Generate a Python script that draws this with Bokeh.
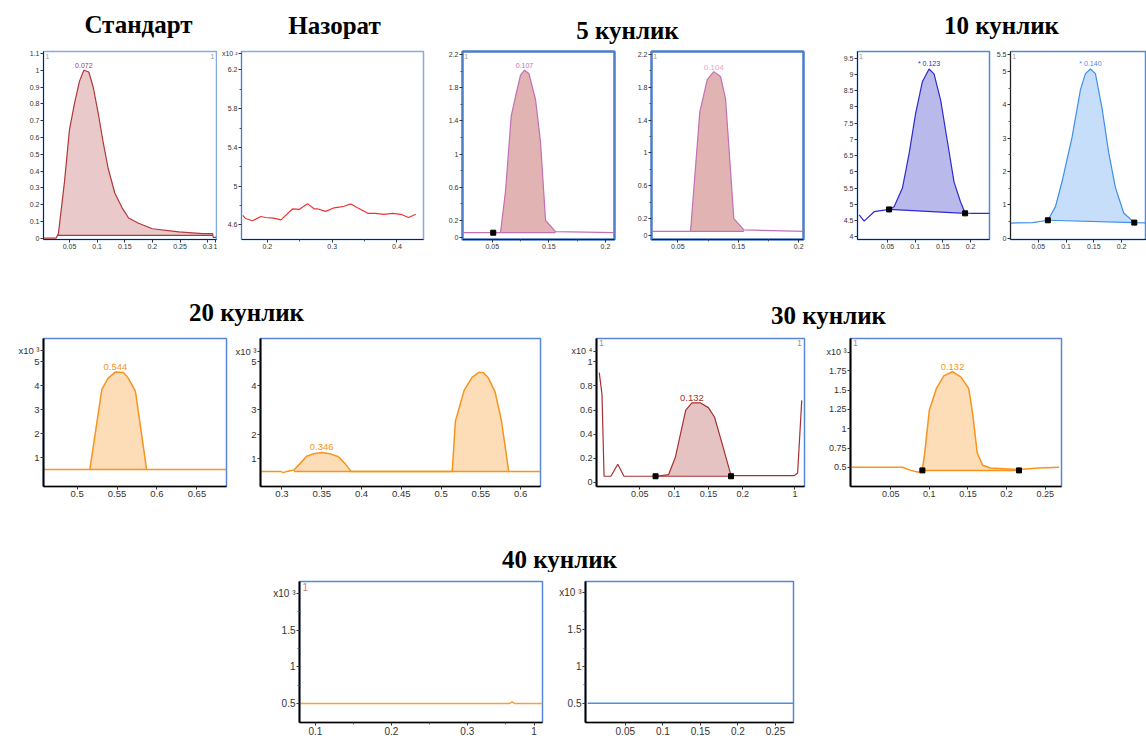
import numpy as np
from bokeh.plotting import figure
from bokeh.models import Range1d, FixedTicker, Label, Spacer
from bokeh.layouts import row, column
from bokeh.embed import file_html
from bokeh.resources import INLINE
from bokeh.core.properties import value

# ---------------- data ----------------
titles_row1 = ["Стандарт", "Назорат", "5 кунлик", "10 кунлик"]
titles_row2 = ["20 кунлик", "30 кунлик"]
titles_row3 = ["40 кунлик"]

# Стандарт
std_x = [0.003, 0.0257, 0.030, 0.041, 0.05, 0.059, 0.068, 0.076, 0.085, 0.093, 0.102, 0.111,
         0.120, 0.132, 0.145, 0.157, 0.175, 0.2, 0.248, 0.291, 0.309, 0.310, 0.316]
std_y = [0, 0, 0.027, 0.337, 0.647, 0.802, 0.934, 1.0, 0.99, 0.899, 0.744, 0.57,
         0.415, 0.269, 0.182, 0.12, 0.089, 0.056, 0.037, 0.027, 0.027, 0.005, 0.005]
std_base_x = [0.029, 0.309]
std_base_y = [0.017, 0.017]
std_peak = "0.072"
std_xticks = [0.05, 0.1, 0.15, 0.2, 0.25, 0.3, 0.314]
std_xlabels = ["0.05", "0.1", "0.15", "0.2", "0.25", "0.3", "1"]
std_yticks = [0, 0.1, 0.2, 0.3, 0.4, 0.5, 0.6, 0.7, 0.8, 0.9, 1, 1.1]
std_ylabels = ["0", "0.1", "0.2", "0.3", "0.4", "0.5", "0.6", "0.7", "0.8", "0.9", "1", "1.1"]

# Назорат
naz_x = [0.162, 0.166, 0.177, 0.190, 0.197, 0.210, 0.221, 0.239, 0.249, 0.262, 0.272, 0.277, 0.290,
         0.303, 0.313, 0.318, 0.329, 0.339, 0.355, 0.367, 0.380, 0.393, 0.406, 0.418, 0.429]
naz_y = [4.70, 4.667, 4.643, 4.687, 4.677, 4.67, 4.653, 4.767, 4.76, 4.82, 4.767, 4.767, 4.74,
         4.777, 4.787, 4.793, 4.817, 4.777, 4.72, 4.72, 4.71, 4.72, 4.71, 4.677, 4.71]
naz_xticks = [0.2, 0.3, 0.4]
naz_xlabels = ["0.2", "0.3", "0.4"]
naz_yticks = [4.6, 5, 5.4, 5.8, 6.2]
naz_ylabels = ["4.6", "5", "5.4", "5.8", "6.2"]

# 5 кунлик (1)
d5a_x = [-0.003, 0.0647, 0.0735, 0.0836, 0.0912, 0.1, 0.107, 0.1147, 0.1265, 0.1353, 0.1442, 0.1618, 0.266]
d5a_y = [0.053, 0.053, 0.556, 1.46, 1.696, 1.95, 2.01, 1.97, 1.657, 1.146, 0.2, 0.065, 0.053]
d5a_base_x = [0.0647, 0.1618]
d5a_base_y = [0.053, 0.053]
d5a_mark_x = [0.0518]
d5a_mark_y = [0.053]
d5a_peak = "0.107"
# 5 кунлик (2)
d5b_x = [0.0064, 0.071, 0.0864, 0.0987, 0.1096, 0.1207, 0.129, 0.1427, 0.1593, 0.258]
d5b_y = [0.045, 0.045, 1.5, 1.893, 1.99, 1.93, 1.657, 0.2, 0.065, 0.045]
d5b_base_x = [0.071, 0.1593]
d5b_base_y = [0.045, 0.045]
d5b_peak = "0.104"
d5_xticks = [0.05, 0.15, 0.25]
d5_xlabels = ["0.05", "0.15", "0.2"]
d5_yticks = [0, 0.2, 0.6, 1, 1.4, 1.8, 2.2]
d5_ylabels = ["0", "0.2", "0.6", "1", "1.4", "1.8", "2.2"]

# 10 кунлик (1)
d10a_x = [-0.001, 0.008, 0.026, 0.053, 0.062, 0.077, 0.089, 0.101, 0.113, 0.125, 0.134, 0.146,
          0.158, 0.170, 0.182, 0.19, 0.203, 0.234]
d10a_y = [4.675, 4.48, 4.77, 4.84, 4.92, 5.5, 6.56, 7.82, 8.78, 9.17, 9.02, 8.2,
          6.95, 5.69, 5.06, 4.73, 4.72, 4.72]
d10a_base_x = [0.053, 0.19]
d10a_base_y = [4.84, 4.72]
d10a_peak = "* 0.123"
d10a_yticks = [4, 4.5, 5, 5.5, 6, 6.5, 7, 7.5, 8, 8.5, 9, 9.5]
d10a_ylabels = ["4", "4.5", "5", "5.5", "6", "6.5", "7", "7.5", "8", "8.5", "9", "9.5"]
# 10 кунлик (2)
d10b_x = [0.0, 0.04, 0.0673, 0.081, 0.093, 0.111, 0.126, 0.135, 0.144, 0.153, 0.165, 0.177,
          0.189, 0.204, 0.223, 0.245]
d10b_y = [0.456, 0.47, 0.54, 0.95, 1.71, 3.04, 4.46, 4.94, 5.08, 4.94, 3.89, 2.56,
          1.52, 0.76, 0.47, 0.46]
d10b_base_x = [0.0673, 0.223]
d10b_base_y = [0.54, 0.47]
d10b_peak = "* 0.140"
d10b_yticks = [0, 1, 2, 3, 4, 5, 5.5]
d10b_ylabels = ["0", "1", "2", "3", "4", "5", "5.5"]
d10_xticks = [0.05, 0.1, 0.15, 0.2]
d10_xlabels = ["0.05", "0.1", "0.15", "0.2"]

# 20 кунлик (1)
d20a_x = [0.458, 0.516, 0.531, 0.539, 0.548, 0.558, 0.564, 0.573, 0.587, 0.687]
d20a_y = [0.51, 0.51, 3.84, 4.31, 4.57, 4.55, 4.31, 3.77, 0.51, 0.51]
d20a_base_x = [0.516, 0.587]
d20a_base_y = [0.51, 0.51]
d20a_peak = "0.544"
d20a_xticks = [0.5, 0.55, 0.6, 0.65]
d20a_xlabels = ["0.5", "0.55", "0.6", "0.65"]
# 20 кунлик (2)
d20b_x = [0.273, 0.298, 0.302, 0.306, 0.315, 0.323, 0.331, 0.34, 0.35, 0.36, 0.371, 0.379, 0.387,
          0.514, 0.518, 0.529, 0.539, 0.547, 0.553, 0.559, 0.568, 0.576, 0.585, 0.625]
d20b_y = [0.47, 0.47, 0.42, 0.47, 0.53, 0.8, 1.09, 1.2, 1.25, 1.2, 1.07, 0.8, 0.47,
          0.47, 2.53, 3.8, 4.33, 4.53, 4.53, 4.33, 3.73, 2.53, 0.47, 0.47]
d20b_base_x = [0.315, 0.585]
d20b_base_y = [0.47, 0.47]
d20b_peak = "0.346"
d20b_xticks = [0.3, 0.35, 0.4, 0.45, 0.5, 0.55, 0.6]
d20b_xlabels = ["0.3", "0.35", "0.4", "0.45", "0.5", "0.55", "0.6"]
d20_yticks = [1, 2, 3, 4, 5]
d20_ylabels = ["1", "2", "3", "4", "5"]

# 30 кунлик (1)
d30a_x = [-0.009, -0.005, -0.002, 0.008, 0.018, 0.027, 0.073, 0.092, 0.102, 0.117, 0.126, 0.138,
          0.15, 0.159, 0.171, 0.183, 0.275, 0.28, 0.286]
d30a_y = [0.91, 0.73, 0.05, 0.05, 0.15, 0.05, 0.05, 0.063, 0.21, 0.6, 0.66, 0.66,
          0.62, 0.54, 0.3, 0.055, 0.055, 0.077, 0.68]
d30a_base_x = [0.073, 0.183]
d30a_base_y = [0.05, 0.05]
d30a_peak = "0.132"
d30a_xticks = [0.05, 0.1, 0.15, 0.2, 0.276]
d30a_xlabels = ["0.05", "0.1", "0.15", "0.2", "1"]
d30a_yticks = [0, 0.2, 0.4, 0.6, 0.8, 1]
d30a_ylabels = ["0", "0.2", "0.4", "0.6", "0.8", "1"]
# 30 кунлик (2)
d30b_x = [0.0, 0.065, 0.076, 0.086, 0.091, 0.094, 0.1, 0.109, 0.119, 0.13, 0.141, 0.151, 0.156,
          0.162, 0.169, 0.179, 0.216, 0.242, 0.268]
d30b_y = [0.5, 0.5, 0.46, 0.436, 0.47, 0.685, 1.24, 1.52, 1.69, 1.74, 1.67, 1.52, 1.2,
          0.685, 0.526, 0.49, 0.47, 0.49, 0.5]
d30b_base_x = [0.091, 0.216]
d30b_base_y = [0.46, 0.46]
d30b_peak = "0.132"
d30b_xticks = [0.05, 0.1, 0.15, 0.2, 0.25]
d30b_xlabels = ["0.05", "0.1", "0.15", "0.2", "0.25"]
d30b_yticks = [0.5, 0.75, 1, 1.25, 1.5, 1.75]
d30b_ylabels = ["0.5", "0.75", "1", "1.25", "1.5", "1.75"]

# 40 кунлик
d40a_x = [0.079, 0.356, 0.359, 0.362, 0.399]
d40a_y = [0.5, 0.5, 0.52, 0.5, 0.5]
d40a_xticks = [0.1, 0.2, 0.3, 0.388]
d40a_xlabels = ["0.1", "0.2", "0.3", "1"]
d40b_x = [0.0, 0.274]
d40b_y = [0.5, 0.5]
d40b_xticks = [0.05, 0.1, 0.15, 0.2, 0.25]
d40b_xlabels = ["0.05", "0.1", "0.15", "0.2", "0.25"]
d40_yticks = [0.5, 1, 1.5]
d40_ylabels = ["0.5", "1", "1.5"]

SANS = "Liberation Sans"
SERIF = "Liberation Serif"


def make_panel(x, y, xr, yr, xt, xtl, yt, ytl, geom, color, **kw):
    bl, fw, br, bt, fh, bb = geom
    p = figure(title=None, width=bl + fw + br, height=bt + fh + bb,
               min_border_left=bl, min_border_right=br, min_border_top=bt, min_border_bottom=bb,
               x_range=Range1d(*xr), y_range=Range1d(*yr),
               toolbar_location=None, output_backend="svg")
    p.grid.visible = False
    p.background_fill_color = "white"
    p.border_fill_color = "white"
    p.outline_line_color = kw.get("frame_color", "#5a86d6")
    p.outline_line_width = kw.get("frame_width", 1.5)
    fs = kw.get("font", "7px")
    yt = list(yt)
    ytl = list(ytl)
    if kw.get("mult"):
        yt.append(kw["mult_at"])
        ytl.append(kw["mult"])
    specs = ((p.xaxis[0], list(xt), list(xtl), kw.get("xminor", []), kw.get("xaxis_color", "#222222"),
              kw.get("xaxis_width", 1)),
             (p.yaxis[0], yt, ytl, kw.get("yminor", []), kw.get("yaxis_color", "#222222"),
              kw.get("yaxis_width", 1)))
    for ax, ticks, labels, minor, acol, awid in specs:
        ax.ticker = FixedTicker(ticks=ticks, minor_ticks=list(minor))
        ax.major_label_overrides = {t: l for t, l in zip(ticks, labels)}
        ax.major_label_text_font = SANS
        ax.major_label_text_font_size = fs
        ax.major_label_text_color = "#333333"
        ax.major_label_standoff = 1
        ax.major_tick_in = 0
        ax.major_tick_out = 3
        ax.minor_tick_in = 0
        ax.minor_tick_out = 2
        ax.major_tick_line_color = "#333333"
        ax.minor_tick_line_color = "#555555"
        ax.axis_line_color = acol
        ax.axis_line_width = awid
    lw = kw.get("lw", 1.2)
    bx = kw.get("base_x")
    by = kw.get("base_y")
    if bx is not None:
        xa = np.asarray(x, float)
        ya = np.asarray(y, float)
        m = (xa > bx[0]) & (xa < bx[1])
        fx = np.concatenate([[bx[0]], xa[m], [bx[1]]])
        fy = np.concatenate([[np.interp(bx[0], xa, ya)], ya[m], [np.interp(bx[1], xa, ya)]])
        fb = np.interp(fx, bx, by)
        fy = np.maximum(fy, fb)
        p.varea(x=fx, y1=fb, y2=fy, fill_color=kw["fill"], fill_alpha=1)
        p.line(bx, by, line_color=color, line_width=lw)
    p.line(x, y, line_color=color, line_width=lw)
    if kw.get("marks_x") is not None:
        p.scatter(kw["marks_x"], kw["marks_y"], marker="square", size=5, color="black")
    elif kw.get("marks") and bx is not None:
        p.scatter(bx, by, marker="square", size=5, color="black")
    if kw.get("peak"):
        w0, w1 = kw.get("peak_win", xr)
        sel = [i for i in range(len(x)) if w0 <= x[i] <= w1]
        i = max(sel, key=lambda k: y[k])
        p.text(x=[x[i]], y=[y[i]], text=[kw["peak"]], text_font=value(SANS),
               text_font_size=kw.get("peak_size", "7px"), text_color=kw.get("peak_color", color),
               text_align="center", text_baseline="bottom", y_offset=-2)
    xspan = xr[1] - xr[0]
    yspan = yr[1] - yr[0]
    ytop = yr[1] - 0.012 * yspan
    for side in kw.get("corner", []):
        if side == "l":
            lab = Label(x=xr[0] + 0.012 * xspan, y=ytop, text="1",
                        text_align="left", text_baseline="top")
        else:
            lab = Label(x=xr[1] - 0.012 * xspan, y=ytop, text="1",
                        text_align="right", text_baseline="top")
        lab.text_font = SANS
        lab.text_font_size = kw.get("corner_size", "7px")
        lab.text_color = kw.get("corner_color", "#999999")
        p.add_layout(lab)
    return p


def make_strip(y0, y1, xs, ys, texts):
    s = figure(title=None, width=1146, height=y1 - y0, x_range=Range1d(0, 1146),
               y_range=Range1d(y1, y0), x_axis_type=None, y_axis_type=None, min_border=0,
               toolbar_location=None, output_backend="svg")
    s.outline_line_color = None
    s.text(x=xs, y=ys, text=texts, text_font=value(SERIF), text_font_style="bold",
           text_font_size="25px", text_align="center", text_baseline="middle",
           text_color="black")
    return s


# ---------------- panels ----------------
p1 = make_panel(std_x, std_y, (0.003, 0.316), (-0.008, 1.112), std_xticks, std_xlabels,
                std_yticks, std_ylabels, (25, 173, 1, 3, 192, 23), "#b03838",
                fill="#e9c9c9", base_x=std_base_x, base_y=std_base_y, peak=std_peak,
                corner=["l", "r"], frame_color="#86aae6")
p2 = make_panel(naz_x, naz_y, (0.160, 0.441), (4.45, 6.39), naz_xticks, naz_xlabels,
                naz_yticks, naz_ylabels, (24, 182, 3, 3, 194, 21), "#ee3333",
                xminor=[0.25, 0.35], yminor=[4.8, 5.2, 5.6, 6.0], mult="x10 ²", mult_at=6.37,
                frame_color="#86aae6", yaxis_color="#777777")
p3 = make_panel(d5a_x, d5a_y, (-0.0025, 0.266), (-0.029, 2.235), d5_xticks, d5_xlabels,
                d5_yticks, d5_ylabels, (36, 152, 4, 7, 192, 19), "#c26fb4",
                fill="#e2b3b3", base_x=d5a_base_x, base_y=d5a_base_y, peak=d5a_peak,
                marks_x=d5a_mark_x, marks_y=d5a_mark_y, xminor=[0.1, 0.2],
                yminor=[0.4, 0.8, 1.2, 1.6, 2.0], corner=["l"], frame_color="#4d7cc8",
                frame_width=2.5, yaxis_color="#4d7cc8", peak_color="#c070b8")
p4 = make_panel(d5b_x, d5b_y, (0.0064, 0.258), (-0.053, 2.235), d5_xticks, d5_xlabels,
                d5_yticks, d5_ylabels, (33, 152, 3, 7, 194, 17), "#c26fb4",
                fill="#e2b3b3", base_x=d5b_base_x, base_y=d5b_base_y, peak=d5b_peak,
                xminor=[0.1, 0.2], yminor=[0.4, 0.8, 1.2, 1.6, 2.0], corner=["l"],
                frame_color="#4d7cc8", frame_width=2.5, yaxis_color="#4d7cc8",
                peak_color="#f4a0c8", peak_size="8px")
p5 = make_panel(d10a_x, d10a_y, (-0.004, 0.234), (3.913, 9.71), d10_xticks, d10_xlabels,
                d10a_yticks, d10a_ylabels, (51, 132, 4, 4, 200, 14), "#2b2bd0",
                fill="#b9b9ec", base_x=d10a_base_x, base_y=d10a_base_y, marks=True,
                peak=d10a_peak, corner=["l"])
p6 = make_panel(d10b_x, d10b_y, (0.0, 0.245), (-0.037, 5.604), d10_xticks, d10_xlabels,
                d10b_yticks, d10b_ylabels, (17, 136, 0, 6, 198, 14), "#3d8fec",
                fill="#c6defa", base_x=d10b_base_x, base_y=d10b_base_y, marks=True,
                peak=d10b_peak, yminor=[0.5, 1.5, 2.5, 3.5, 4.5], corner=["l"])

p7 = make_panel(d20a_x, d20a_y, (0.458, 0.687), (-0.2, 5.96), d20a_xticks, d20a_xlabels,
                d20_yticks, d20_ylabels, (35, 183, 4, 3, 154, 20), "#f7941d",
                fill="#fddcb8", base_x=d20a_base_x, base_y=d20a_base_y, peak=d20a_peak,
                font="9.5px", peak_size="9.5px", yaxis_color="black", yaxis_width=2,
                xaxis_color="black", xaxis_width=1.5, mult="x10 ³", mult_at=5.44, lw=1.5)
p8 = make_panel(d20b_x, d20b_y, (0.273, 0.625), (-0.15, 5.93), d20b_xticks, d20b_xlabels,
                d20_yticks, d20_ylabels, (30, 280, 5, 6, 152, 19), "#f7941d",
                fill="#fddcb8", base_x=d20b_base_x, base_y=d20b_base_y, peak=d20b_peak,
                peak_win=(0.3, 0.4), font="9.5px", peak_size="9.5px", yaxis_color="black",
                yaxis_width=2, xaxis_color="black", xaxis_width=1.5, mult="x10 ³",
                mult_at=5.41, lw=1.5)
p9 = make_panel(d30a_x, d30a_y, (-0.013, 0.29), (-0.035, 1.194), d30a_xticks, d30a_xlabels,
                d30a_yticks, d30a_ylabels, (51, 208, 4, 8, 150, 19), "#a83030",
                fill="#e6c3c3", base_x=d30a_base_x, base_y=d30a_base_y, marks=True,
                peak=d30a_peak, peak_win=(0.05, 0.25), font="9px", peak_size="9.5px",
                yaxis_color="black", yaxis_width=2, xaxis_color="black", xaxis_width=1.5,
                mult="x10 ⁴", mult_at=1.088,
                corner=["l", "r"], corner_color="#d08080", corner_size="9px")
p10 = make_panel(d30b_x, d30b_y, (-0.002, 0.271), (0.251, 2.171), d30b_xticks, d30b_xlabels,
                 d30b_yticks, d30b_ylabels, (42, 211, 4, 9, 149, 19), "#f7941d",
                 fill="#fddcb8", base_x=d30b_base_x, base_y=d30b_base_y, marks=True,
                 peak=d30b_peak, font="9px", peak_size="9.5px", yaxis_color="black",
                 yaxis_width=2, xaxis_color="black", xaxis_width=1.5, mult="x10 ³",
                 mult_at=1.995, corner=["l"], corner_color="#d08080", corner_size="9px", lw=1.5)

p11 = make_panel(d40a_x, d40a_y, (0.079, 0.399), (0.24, 2.165), d40a_xticks, d40a_xlabels,
                 d40_yticks, d40_ylabels, (29, 243, 3, 2, 148, 16), "#f7a040",
                 xminor=[0.15, 0.25, 0.35], yminor=[0.75, 1.25, 1.75], font="10px",
                 yaxis_color="black", yaxis_width=2, xaxis_color="black", xaxis_width=1.5,
                 mult="x10 ³", mult_at=2.0,
                 corner=["l"], corner_color="#d08080", corner_size="10px", lw=1.5)
p12 = make_panel(d40b_x, d40b_y, (-0.003, 0.274), (0.237, 2.16), d40b_xticks, d40b_xlabels,
                 d40_yticks, d40_ylabels, (40, 208, 4, 9, 141, 16), "#4a90e0",
                 yminor=[0.75, 1.25, 1.75], font="10px", yaxis_color="black", yaxis_width=2,
                 xaxis_color="black", xaxis_width=1.5, mult="x10 ³", mult_at=2.005, lw=1.5)

# ---------------- titles ----------------
strip1 = make_strip(0, 44, [138, 334, 627, 1001], [24, 25, 30, 25], titles_row1)
strip2 = make_strip(262, 329, [246, 828], [312, 315], titles_row2)
strip3 = make_strip(506, 572, [559], [559], titles_row3)

layout = column(
    strip1,
    row(Spacer(width=18, height=218), p1, p2, p3, p4, p5, p6),
    strip2,
    row(Spacer(width=8, height=177), p7, p8, p9, p10),
    strip3,
    row(Spacer(width=270, height=166), p11, p12),
)

open("out.html", "w").write(file_html(layout, INLINE))
